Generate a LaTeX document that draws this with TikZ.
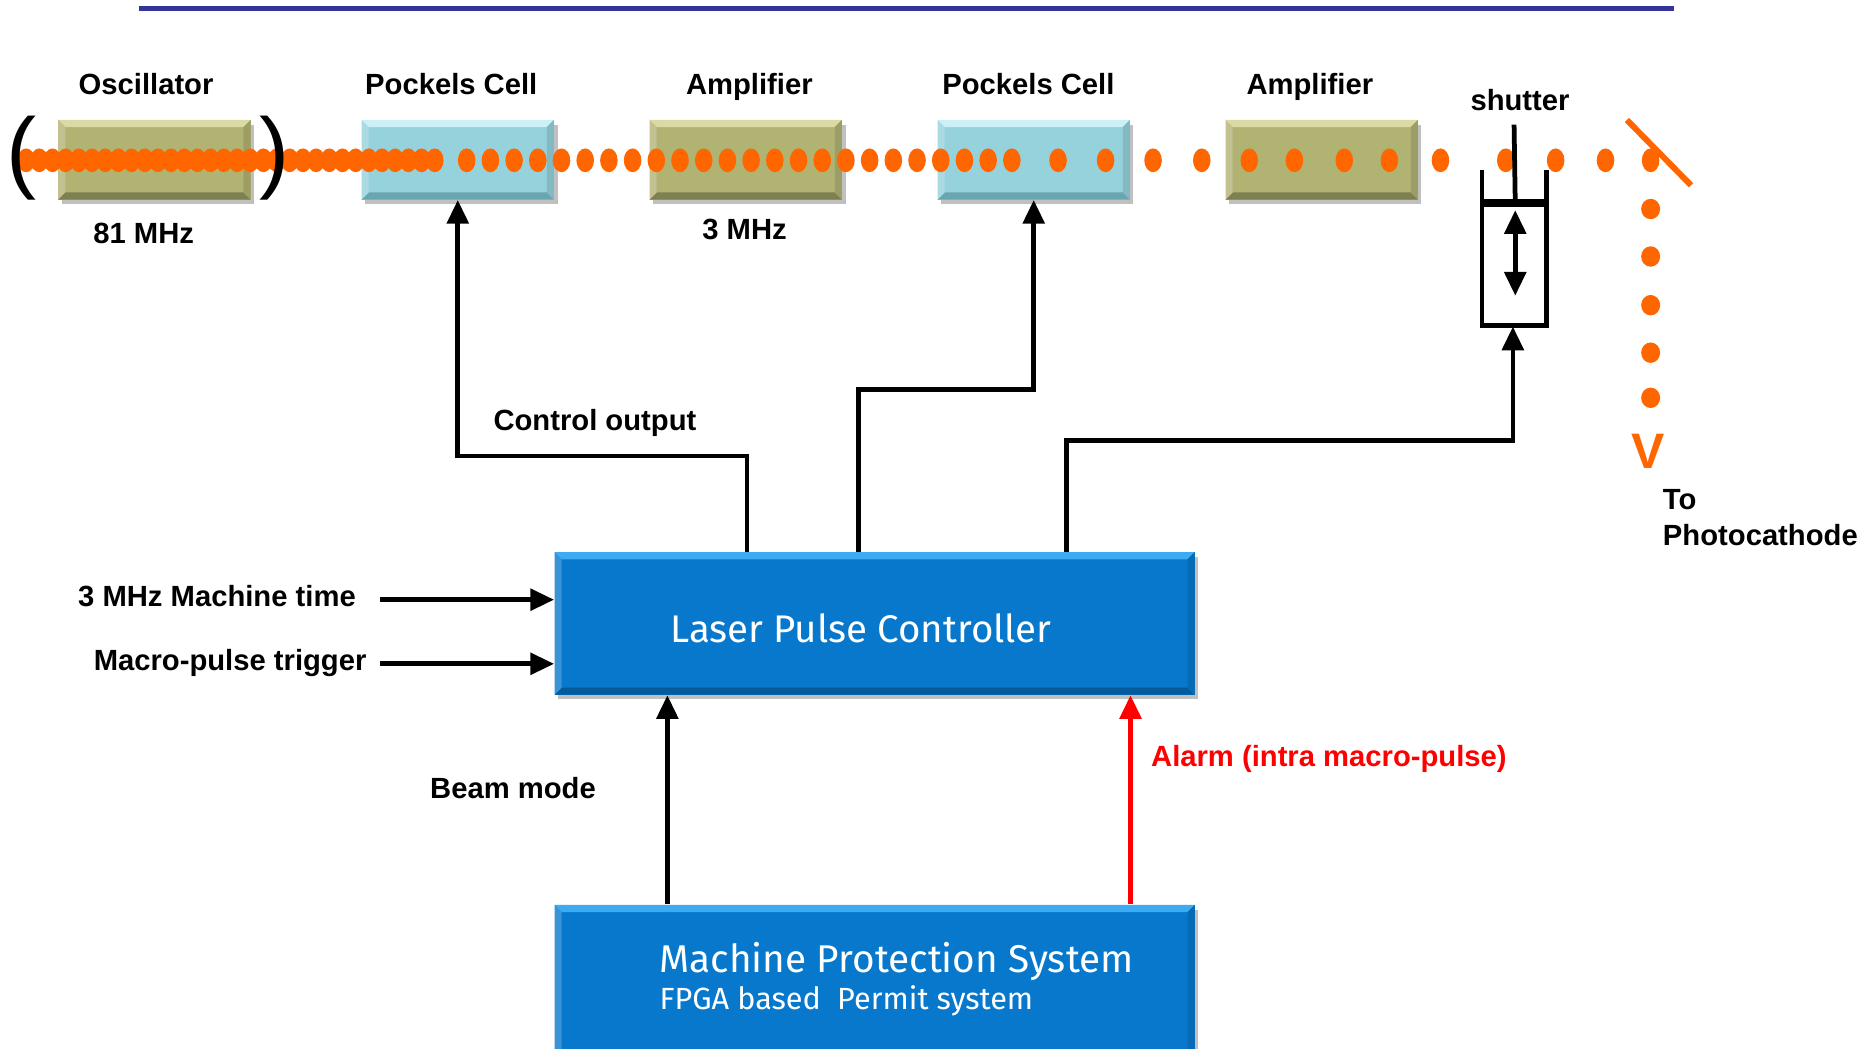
\documentclass[tikz,border=0pt]{standalone}
\usepackage{fontspec}
\setmainfont{Liberation Sans}
\newfontfamily\comic{Fira Sans}
\usetikzlibrary{arrows.meta,shadows}
\definecolor{navy}{HTML}{333399}
\definecolor{laser}{HTML}{FF6600}
\definecolor{olive}{HTML}{B1B373}
\definecolor{olivel}{HTML}{D9DBA2}
\definecolor{olived}{HTML}{7E8050}
\definecolor{cyanb}{HTML}{95D2DB}
\definecolor{cyanl}{HTML}{CBF1F7}
\definecolor{cyand}{HTML}{6AA6B0}
\definecolor{blueb}{HTML}{0878CC}
\definecolor{bluel}{HTML}{3DAAF2}
\definecolor{blued}{HTML}{055A9C}
\tikzset{
  bevel/.style n args={3}{fill=#1, inner sep=0pt,
    drop shadow={shadow xshift=1.5pt, shadow yshift=-2pt, opacity=0.35, fill=black!70},
    path picture={
      \fill[#2] (path picture bounding box.north west) -- (path picture bounding box.north east)
        -- ([shift={(-3pt,-3pt)}]path picture bounding box.north east) -- ([shift={(3pt,-3pt)}]path picture bounding box.north west) -- cycle;
      \fill[#3] (path picture bounding box.south west) -- (path picture bounding box.south east)
        -- ([shift={(-3pt,3pt)}]path picture bounding box.south east) -- ([shift={(3pt,3pt)}]path picture bounding box.south west) -- cycle;
      \fill[#1!80!white] (path picture bounding box.north west) -- ([shift={(3pt,-3pt)}]path picture bounding box.north west)
        -- ([shift={(3pt,3pt)}]path picture bounding box.south west) -- (path picture bounding box.south west) -- cycle;
      \fill[#1!88!black] (path picture bounding box.north east) -- ([shift={(-3pt,-3pt)}]path picture bounding box.north east)
        -- ([shift={(-3pt,3pt)}]path picture bounding box.south east) -- (path picture bounding box.south east) -- cycle;
    }},
  optbox/.style n args={3}{bevel={#1}{#2}{#3}, minimum width=81pt, minimum height=33.5pt},
  lab/.style={font=\bfseries\fontsize{12.3}{14}\selectfont, inner sep=0pt, text height=8.9pt, text depth=2.5pt},
  conn/.style={line width=2pt, -{Triangle[length=10pt,width=9pt]}},
  dot/.style={fill=laser},
}
\begin{document}
\begin{tikzpicture}[x=0.5pt,y=-0.5pt]
\clip (0,0) rectangle (1568,883);
\fill[white] (0,0) rectangle (1568,883);
% top rule
\draw[navy, line width=2pt] (117,7) -- (1410,7);
% optical elements
\node[optbox={olive}{olivel}{olived}] (osc) at (130,134.5) {};
\node[optbox={cyanb}{cyanl}{cyand}] (pc1) at (385.5,134.5) {};
\node[optbox={olive}{olivel}{olived}] (amp1) at (628,134.5) {};
\node[optbox={cyanb}{cyanl}{cyand}] (pc2) at (870.5,134.5) {};
\node[optbox={olive}{olivel}{olived}] (amp2) at (1113,134.5) {};
% labels
\node[lab] (tosc) at (123,73) {Oscillator};
\node[lab] (tpc1) at (380,73) {Pockels Cell};
\node[lab] (tamp1) at (631,73) {Amplifier};
\node[lab] (tpc2) at (866,73) {Pockels Cell};
\node[lab] (tamp2) at (1103,73) {Amplifier};
\node[lab] (tshut) at (1280,87) {shutter};
\node[lab] (t81) at (121,199) {81 MHz};
\node[lab] (t3) at (627,195) {3 MHz};
% laser pulses
\foreach \i in {0,...,31} \fill[dot] (22+\i*11.1,135) ellipse [x radius=3.7pt, y radius=5pt];
\foreach \i in {0,...,23} \fill[dot] (393+\i*19.96,135) ellipse [x radius=3.7pt, y radius=5pt];
\foreach \x in {891,931,971,1012,1052,1090,1132,1170,1213,1268,1310,1352,1390}
  \fill[dot] (\x,135) ellipse [x radius=3.7pt, y radius=5pt];
\foreach \y in {176,216,257,297,335}
  \fill[dot] (1390,\y) ellipse [x radius=4pt, y radius=4.3pt];
% cavity mirrors
\node[inner sep=0pt, font=\fontsize{38}{38}\selectfont] (lp) at (18,133) {(};
\node[inner sep=0pt, font=\fontsize{38}{38}\selectfont] (rp) at (231,133) {)};
% output mirror
\draw[laser, line width=2.5pt] (1370,101) -- (1424,156);
\node[font=\bfseries\fontsize{21}{21}\selectfont, text=laser, inner sep=0pt] (vv) at (1388,380) {V};
\node[lab, anchor=west] (tto) at (1400,423) {To};
\node[lab, anchor=west] (tpho) at (1400,453) {Photocathode};
% shutter
\draw[line width=2pt] (1275,105) -- (1276,171);
\draw[line width=2pt] (1248,143) -- (1248,274) -- (1302,274) -- (1302,143);
\draw[line width=3.5pt] (1248,171) -- (1302,171);
\draw[line width=2pt, {Triangle[length=10pt,width=9pt]}-{Triangle[length=10pt,width=9pt]}] (1276,177) -- (1276,249);
\coordinate (shut) at (1274,275);
% controller boxes
\node[bevel={blueb}{bluel}{blued}, minimum width=269.5pt, minimum height=60pt] (lpc) at (736.5,525) {};
\node[text=white, font=\comic\fontsize{16.2}{18}\selectfont] (tlpc) at (725,529) {Laser Pulse Controller};
\node[bevel={blueb}{bluel}{blued}, minimum width=269.5pt, minimum height=68pt] (mps) at (736.5,830) {};
\node[text=white, font=\comic\fontsize{16.3}{18}\selectfont, anchor=west, inner sep=0pt] (tmps) at (555,810) {Machine Protection System};
\node[text=white, font=\comic\fontsize{12.9}{14}\selectfont, anchor=west, inner sep=0pt] (tfpga) at (555,843) {FPGA based\ \ Permit system};
% inputs
\node[lab, anchor=east] (tin1) at (300,504) {3 MHz Machine time};
\node[lab, anchor=east] (tin2) at (309,558) {Macro-pulse trigger};
\coordinate (in1) at (320,505);
\coordinate (in2) at (320,559);
\draw[conn] (in1) -- (lpc.west |- in1);
\draw[conn] (in2) -- (lpc.west |- in2);
% control outputs
\coordinate (o1) at (629,384);
\coordinate (o2) at (723,328);
\coordinate (o3) at (898,371);
\draw[conn] (lpc.north -| o1) -- (o1) -| (pc1.south);
\draw[conn] (lpc.north -| o2) -- (o2) -| (pc2.south);
\draw[conn] (lpc.north -| o3) -- (o3) -| (shut);
\node[lab] (tctl) at (501,356) {Control output};
% MPS to LPC
\coordinate (bm) at (562,0);
\coordinate (al) at (952,0);
\draw[conn] (mps.north -| bm) -- (lpc.south -| bm);
\draw[conn, red] (mps.north -| al) -- (lpc.south -| al);
\node[lab] (tbm) at (432,666) {Beam mode};
\node[lab, anchor=west, text=red] (tal) at (969,639) {Alarm (intra macro-pulse)};
\end{tikzpicture}
\end{document}
